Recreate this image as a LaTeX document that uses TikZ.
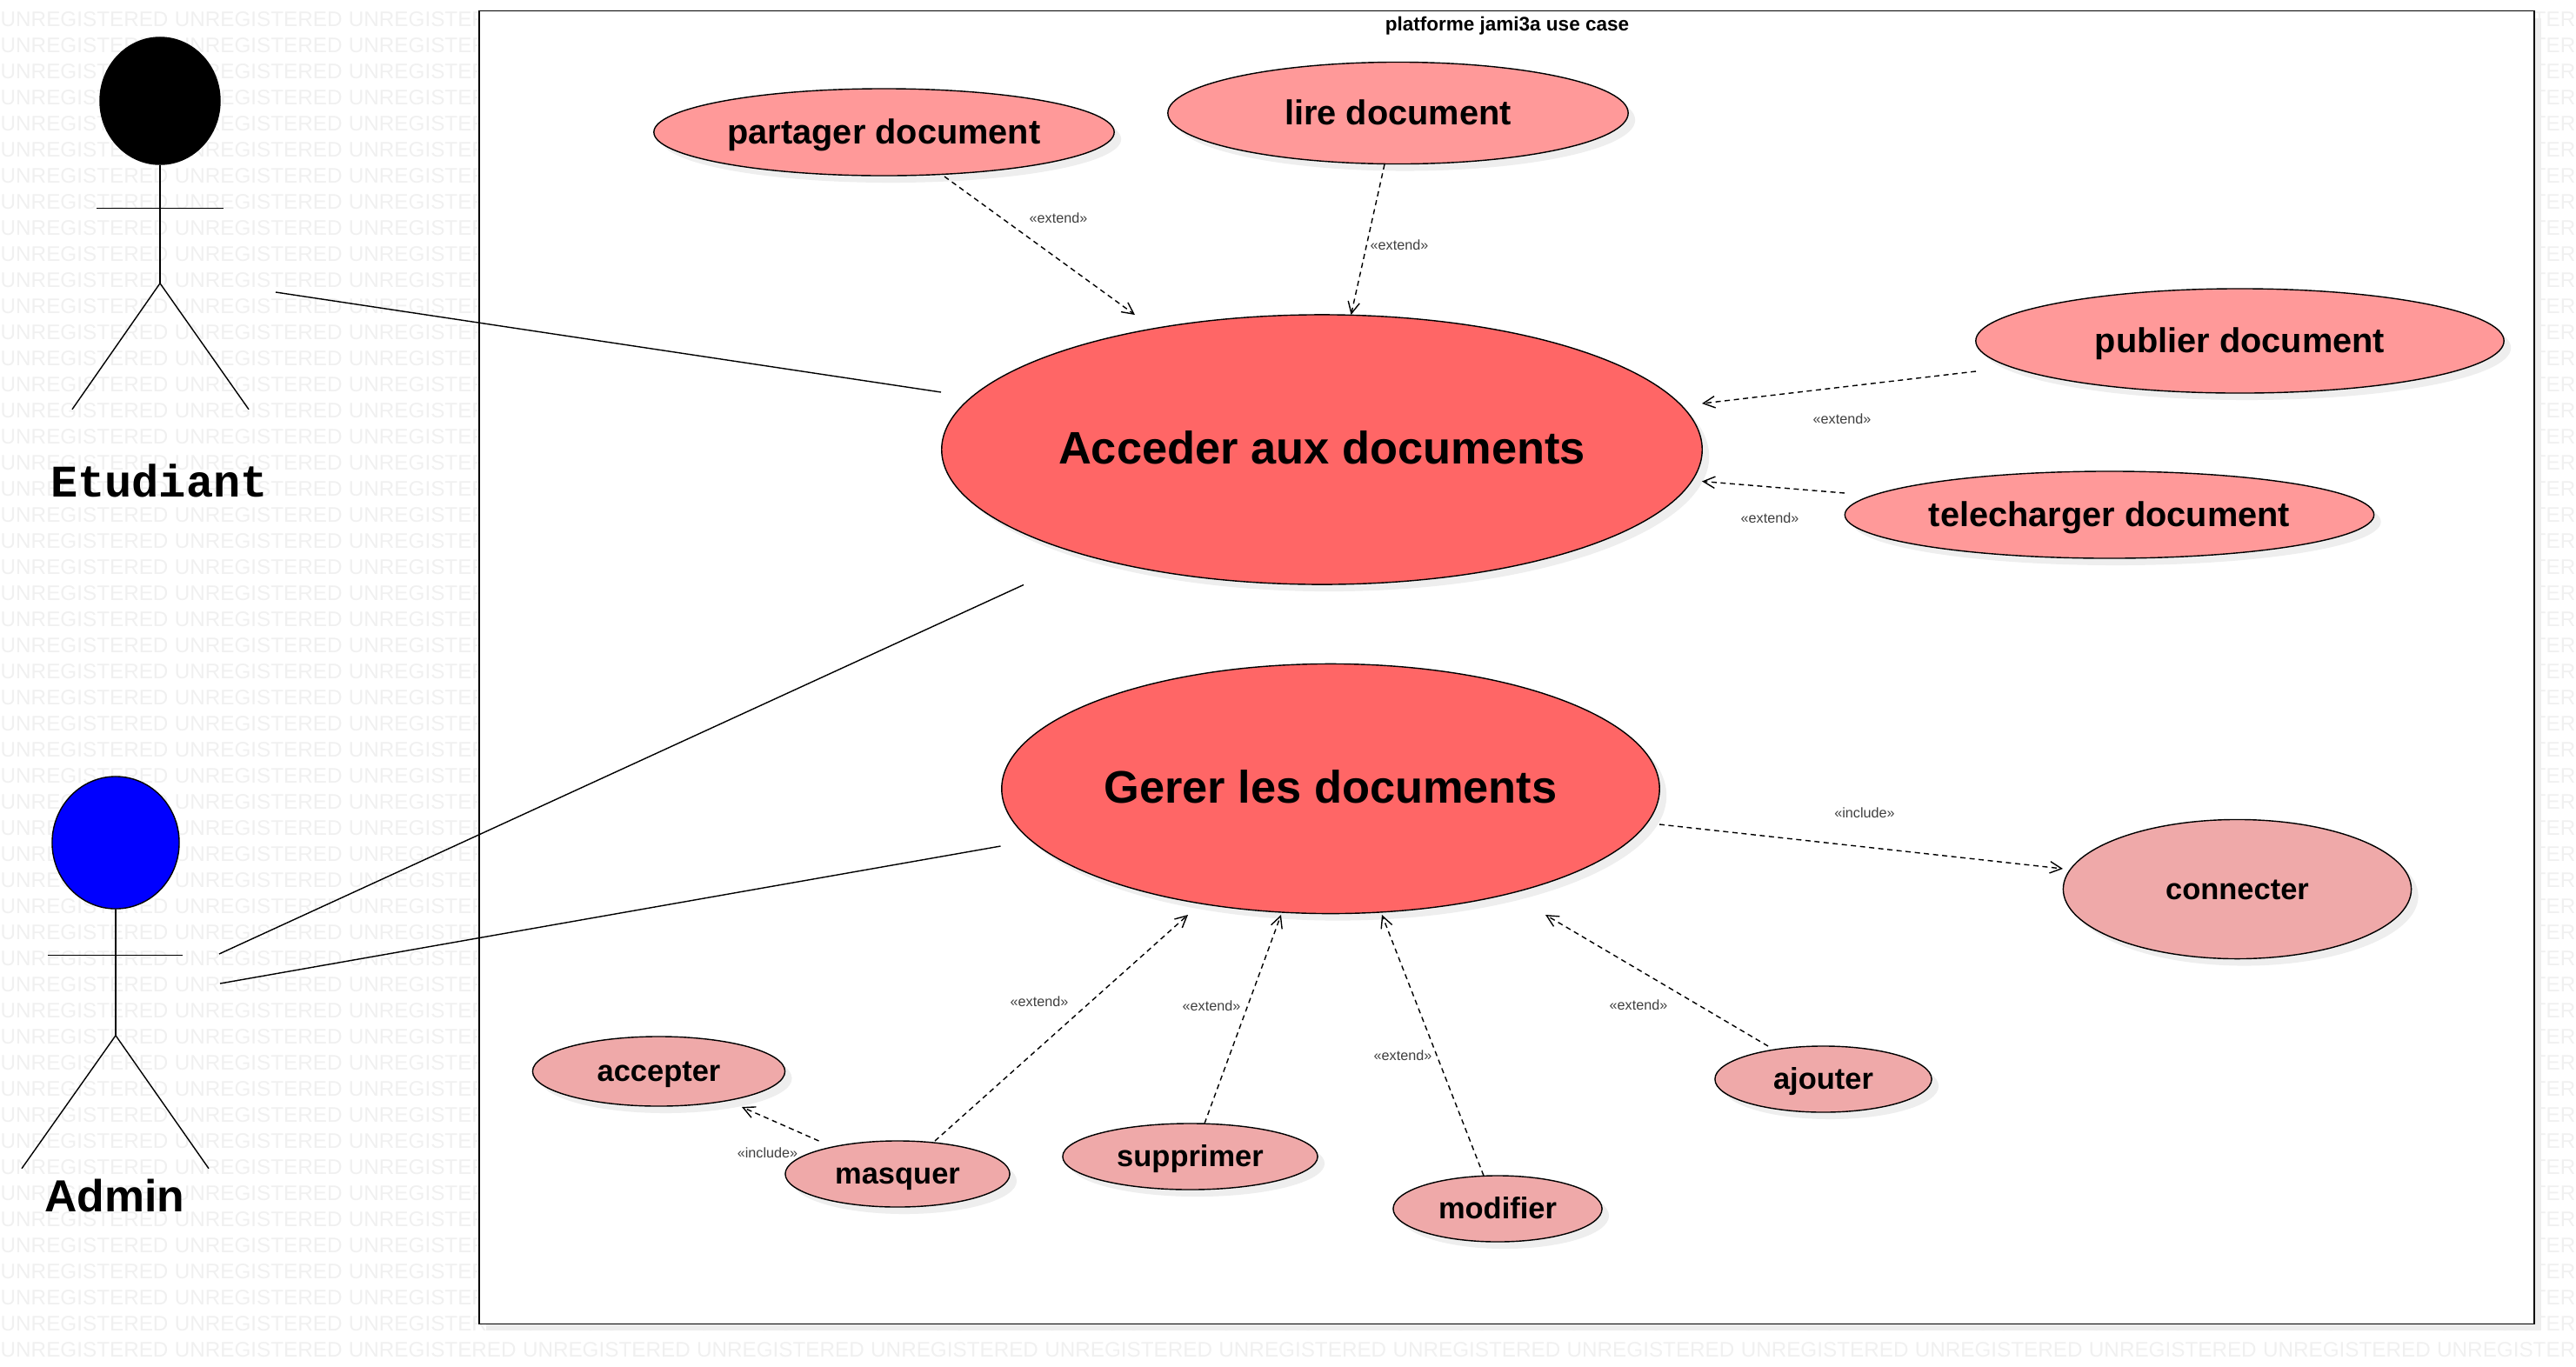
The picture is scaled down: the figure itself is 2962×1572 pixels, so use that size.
\documentclass[tikz,border=0pt]{standalone}
\usepackage{fontspec}
\setmainfont{Liberation Sans}
\newfontfamily\actorfont{Liberation Mono}
\usetikzlibrary{shapes,arrows.meta,shadows}

\definecolor{mainred}{HTML}{FF6666}
\definecolor{lightred}{HTML}{FF9999}
\definecolor{paleRed}{HTML}{EFA9A9}
\definecolor{shadowgray}{HTML}{EEEEEE}
\definecolor{markgray}{HTML}{F0F0F0}

\newcommand{\wmword}{\makebox[2cm][l]{UNREGISTERED}}
\newcommand{\wmfive}{\wmword\wmword\wmword\wmword\wmword}

\tikzset{
    softshadow/.style={general shadow={fill=shadowgray,shadow xshift=0.08cm,shadow yshift=-0.08cm}},
    usecase/.style={shape=ellipse,draw,line width=0.4pt,inner sep=0pt,text depth=0pt,softshadow},
    mainuc/.style={usecase,fill=mainred,text height=9.5pt,font=\fontsize{14.9}{16}\selectfont\bfseries},
    docuc/.style={usecase,fill=lightred,text height=7.7pt,font=\fontsize{11.3}{13}\selectfont\bfseries},
    taskuc/.style={usecase,fill=paleRed,text height=6.6pt,font=\fontsize{9.8}{12}\selectfont\bfseries},
    actorhead/.style={shape=ellipse,draw,line width=0.4pt,inner sep=0pt},
    stereo/.style={inner sep=0pt,text=black!75,font=\fontsize{4.6}{5}\selectfont},
    dep/.style={dashed,dash pattern=on 1.7pt off 1.3pt,line width=0.4pt,-{Straight Barb[length=3.8pt,width=3.8pt,line width=0.4pt]}},
    assoc/.style={line width=0.4pt},
    watermark/.style={anchor=west,inner sep=0pt,text=markgray,font=\fontsize{6.9}{8}\selectfont}
}

\begin{document}
\begin{tikzpicture}[x=0.01cm,y=-0.01cm]
    \useasboundingbox (0,0) rectangle (2962,1572);

    % Background text
    \foreach \r in {0,...,51}
        \node[watermark] (wm\r) at (0,{22+30*\r}) {\wmfive\wmfive\wmfive};

    % System frame
    \node[draw,fill=white,line width=0.5pt,inner sep=0pt,minimum width=23.61cm,minimum height=15.09cm,softshadow] (frame) at (1732.5,767.5) {};
    \node[inner sep=0pt,font=\fontsize{6.4}{8}\selectfont\bfseries] (title) at (1733,30) {platforme jami3a use case};

    % Etudiant
    \node[actorhead,fill=black,minimum width=1.38cm,minimum height=1.46cm] (etudiantHead) at (184,116) {};
    \draw[assoc] (etudiantHead.south) -- ++(0,136) coordinate (etudiantHip);
    \draw[assoc] ([shift={(-73,123.5)}]etudiantHead.center) -- ++(146,0);
    \draw[assoc] (etudiantHip) -- ++(-101,145);
    \draw[assoc] (etudiantHip) -- ++(102,145);
    \node[inner sep=0pt,font=\actorfont\fontsize{14.8}{16}\selectfont\bfseries] (etudiant) at (183,553) {Etudiant};

    % Admin
    \node[actorhead,fill=blue,minimum width=1.46cm,minimum height=1.52cm] (adminHead) at (133,969) {};
    \draw[assoc] (adminHead.south) -- ++(0,145) coordinate (adminHip);
    \draw[assoc] ([shift={(-78,129.5)}]adminHead.center) -- ++(155,0);
    \draw[assoc] (adminHip) -- ++(-108,153);
    \draw[assoc] (adminHip) -- ++(107,153);
    \node[inner sep=0pt,font=\fontsize{14.7}{16}\selectfont\bfseries] (admin) at (132,1375) {Admin};

    % Main use cases
    \node[mainuc,minimum width=8.74cm,minimum height=3.1cm] (acceder) at (1520,517) {Acceder aux documents};
    \node[mainuc,minimum width=7.56cm,minimum height=2.87cm] (gerer) at (1530,907) {Gerer les documents};

    % Document use cases
    \node[docuc,minimum width=5.29cm,minimum height=1cm] (partager) at (1016.5,152) {partager document};
    \node[docuc,minimum width=5.29cm,minimum height=1.17cm] (lire) at (1607.5,130) {lire document};
    \node[docuc,minimum width=6.07cm,minimum height=1.2cm] (publier) at (2575.5,392) {publier document};
    \node[docuc,minimum width=6.08cm,minimum height=1cm] (telecharger) at (2425.5,592) {telecharger document};

    % Management use cases
    \node[taskuc,minimum width=4cm,minimum height=1.6cm] (connecter) at (2572.5,1022.5) {connecter};
    \node[taskuc,minimum width=2.9cm,minimum height=0.8cm] (accepter) at (757.5,1232) {accepter};
    \node[taskuc,minimum width=2.58cm,minimum height=0.76cm] (masquer) at (1032,1350) {masquer};
    \node[taskuc,minimum width=2.93cm,minimum height=0.76cm] (supprimer) at (1368.5,1330) {supprimer};
    \node[taskuc,minimum width=2.4cm,minimum height=0.76cm] (modifier) at (1722,1390) {modifier};
    \node[taskuc,minimum width=2.49cm,minimum height=0.76cm] (ajouter) at (2096.5,1241) {ajouter};

    % Associations
    \draw[assoc] ([shift={(133,220)}]etudiantHead.center) -- ([shift={(-438,-66)}]acceder.center);
    \draw[assoc] ([shift={(119,128)}]adminHead.center) -- ([shift={(-343,155.5)}]acceder.center);
    \draw[assoc] ([shift={(120,162)}]adminHead.center) -- ([shift={(-379.5,66)}]gerer.center);

    % Dependencies
    \draw[dep] ([shift={(69.5,51)}]partager.center) -- ([shift={(-215,-155)}]acceder.center);
    \draw[dep] ([shift={(-15.5,59)}]lire.center) -- ([shift={(33.5,-155)}]acceder.center);
    \draw[dep] ([shift={(-303.5,35)}]publier.center) -- ([shift={(437,-53)}]acceder.center);
    \draw[dep] ([shift={(-304.5,-25)}]telecharger.center) -- ([shift={(437,36.5)}]acceder.center);
    \draw[dep] ([shift={(378,41)}]gerer.center) -- ([shift={(-200.5,-23.5)}]connecter.center);
    \draw[dep] ([shift={(43,-38)}]masquer.center) -- ([shift={(-164,145)}]gerer.center);
    \draw[dep] ([shift={(16.5,-38)}]supprimer.center) -- ([shift={(-57,145)}]gerer.center);
    \draw[dep] ([shift={(-16,-38)}]modifier.center) -- ([shift={(59,145)}]gerer.center);
    \draw[dep] ([shift={(-63.5,-38)}]ajouter.center) -- ([shift={(247,145)}]gerer.center);
    \draw[dep] ([shift={(-90.5,-38)}]masquer.center) -- ([shift={(95.5,41)}]accepter.center);

    % Stereotypes
    \node[stereo] (extPartager) at (1217,251) {«extend»};
    \node[stereo] (extLire) at (1609,282) {«extend»};
    \node[stereo] (extPublier) at (2118,482) {«extend»};
    \node[stereo] (extTelecharger) at (2035,596) {«extend»};
    \node[stereo] (incConnecter) at (2144,935) {«include»};
    \node[stereo] (extMasquer) at (1195,1152) {«extend»};
    \node[stereo] (extSupprimer) at (1393,1157) {«extend»};
    \node[stereo] (extModifier) at (1613,1214) {«extend»};
    \node[stereo] (extAjouter) at (1884,1156) {«extend»};
    \node[stereo] (incAccepter) at (882.5,1326) {«include»};
\end{tikzpicture}
\end{document}
